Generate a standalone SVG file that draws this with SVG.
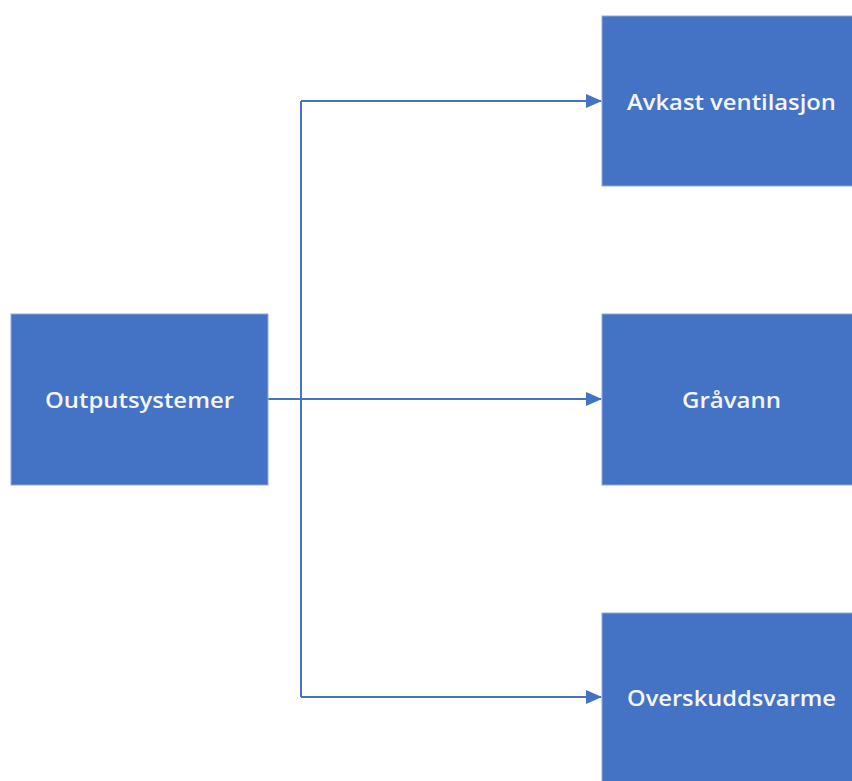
<svg xmlns="http://www.w3.org/2000/svg" width="852" height="781" viewBox="0 0 852 781">
<defs>
<style>
.box{fill:#4472C4;stroke:#8EA9DB;stroke-width:1}
.lbl{font-family:"Open Sans","Noto Sans","Liberation Sans",sans-serif;font-weight:600;font-size:22px;fill:#F4F6FB;text-anchor:middle;dominant-baseline:central}
.conn{fill:none;stroke:#4472C4;stroke-width:2}
</style>
<marker id="arr" markerWidth="16" markerHeight="14" refX="15" refY="7" orient="auto" markerUnits="userSpaceOnUse" viewBox="0 0 16 14">
<path d="M0,0 L16,7 L0,14 Z" fill="#4472C4"/>
</marker>
</defs>
<rect width="852" height="781" fill="#FFFFFF"/>
<g id="connectors">
<path class="conn" d="M268,399 H301"/>
<path class="conn" d="M301,101 V697"/>
<path class="conn" d="M301,101 H601" marker-end="url(#arr)"/>
<path class="conn" d="M301,399 H601" marker-end="url(#arr)"/>
<path class="conn" d="M301,697 H601" marker-end="url(#arr)"/>
</g>
<g id="outputsystemer">
<rect class="box" x="11" y="314" width="257" height="171"/>
<text class="lbl" x="139.5" y="399" textLength="189" lengthAdjust="spacingAndGlyphs">Outputsystemer</text>
</g>
<g id="avkast">
<rect class="box" x="602" y="16" width="260" height="170"/>
<text class="lbl" x="731.5" y="101" textLength="209" lengthAdjust="spacingAndGlyphs">Avkast ventilasjon</text>
</g>
<g id="gravann">
<rect class="box" x="602" y="314" width="260" height="171"/>
<text class="lbl" x="731.5" y="399" textLength="99" lengthAdjust="spacingAndGlyphs">Gråvann</text>
</g>
<g id="overskuddsvarme">
<rect class="box" x="602" y="613" width="260" height="180"/>
<text class="lbl" x="731.5" y="697" textLength="209" lengthAdjust="spacingAndGlyphs">Overskuddsvarme</text>
</g>
</svg>
